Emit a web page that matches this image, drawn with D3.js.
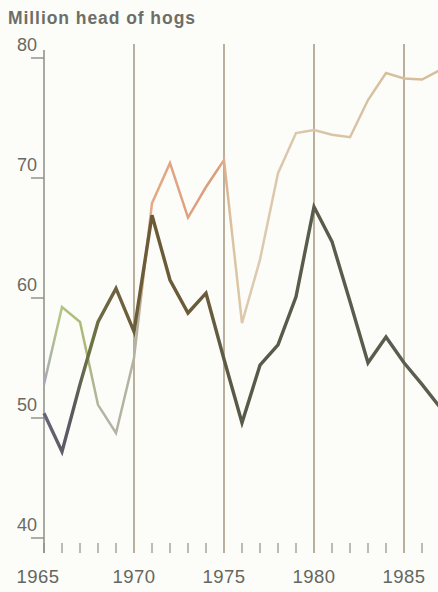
<!DOCTYPE html>
<html>
<head>
<meta charset="utf-8">
<script src="https://cdn.jsdelivr.net/npm/d3@7"></script>
<style>
  html, body { margin: 0; padding: 0; background: #fcfdf8; }
  svg { display: block; }
  text { font-family: "Liberation Sans", Arial, sans-serif; }
</style>
</head>
<body>
<svg id="chart" width="438" height="592"></svg>
<script>
// Hog inventory, million head, 1965-1987
const years = d3.range(1965, 1988);
const darkSeries = [50.4, 47.2, 52.8, 58.0, 60.8, 57.2, 66.9, 61.5, 58.75, 60.4, 54.9, 49.6,
                    54.4, 56.1, 60.1, 67.6, 64.7, 59.7, 54.6, 56.75, 54.6, 52.8, 50.9];
const lightSeries = [52.8, 59.25, 58.0, 51.1, 48.75, 55.0, 67.9, 71.25, 66.7, 69.25, 71.5, 57.9,
                     63.2, 70.4, 73.75, 74.0, 73.6, 73.4, 76.5, 78.75, 78.3, 78.2, 79.0];
const yTicks = [40, 50, 60, 70, 80];
const xLabels = [1965, 1970, 1975, 1980, 1985];
const gridYears = [1970, 1975, 1980, 1985];
const minorYears = d3.range(1965, 1987);

// colour bands along each line, keyed by year
const darkStops = [[1965, "#66667a"], [1966.6, "#58585e"], [1967.6, "#6c7444"], [1968.8, "#6e6240"],
                   [1971, "#6b5a36"], [1974.2, "#6a5c3c"], [1975.3, "#585a48"], [1987, "#5a5e50"]];
const lightStops = [[1965, "#a8a8ba"], [1965.8, "#b4c486"], [1967.4, "#aab878"], [1968.2, "#b4b4a6"],
                    [1970.2, "#b4b2a0"], [1970.9, "#e2aa86"], [1974.6, "#dc9c7c"], [1975.5, "#dcc4a2"],
                    [1976.5, "#dccab0"], [1987, "#d6bc98"]];

const svg = d3.select("#chart");
const x = d3.scaleLinear().domain([1965, 1985]).range([44, 404]);
const y = d3.scaleLinear().domain([40, 80]).range([538, 58]);

const defs = svg.append("defs");
function gradient(id, stops) {
  const g = defs.append("linearGradient")
    .attr("id", id).attr("gradientUnits", "userSpaceOnUse")
    .attr("x1", x(1965)).attr("x2", x(1987)).attr("y1", 0).attr("y2", 0);
  const span = 1987 - 1965;
  g.selectAll("stop").data(stops).join("stop")
    .attr("offset", d => (d[0] - 1965) / span)
    .attr("stop-color", d => d[1]);
  return `url(#${id})`;
}
const darkPaint = gradient("darkGrad", darkStops);
const lightPaint = gradient("lightGrad", lightStops);

// title
svg.append("text")
  .attr("x", 8).attr("y", 24)
  .attr("font-size", 17.5).attr("font-weight", 600).attr("fill", "#6e6e68")
  .attr("textLength", 187)
  .text("Million head of hogs");

// vertical grid lines at five-year marks
svg.append("g").selectAll("line").data(gridYears).join("line")
  .attr("x1", d => x(d)).attr("x2", d => x(d))
  .attr("y1", 44).attr("y2", 553)
  .attr("stroke", "#9e8e76").attr("stroke-width", 1.4);

// minor year ticks along the bottom
svg.append("g").selectAll("line").data(minorYears.filter(d => !gridYears.includes(d))).join("line")
  .attr("x1", d => x(d)).attr("x2", d => x(d))
  .attr("y1", 543).attr("y2", 553)
  .attr("stroke", "#9a9a92").attr("stroke-width", 1.3);

// y axis line and ticks
svg.append("line")
  .attr("x1", x(1965)).attr("x2", x(1965))
  .attr("y1", 50).attr("y2", 553)
  .attr("stroke", "#8c8c84").attr("stroke-width", 1.5);
svg.append("g").selectAll("line").data(yTicks).join("line")
  .attr("x1", 31).attr("x2", x(1965))
  .attr("y1", d => y(d)).attr("y2", d => y(d))
  .attr("stroke", "#8c8c84").attr("stroke-width", 1.4);
svg.append("g").selectAll("text").data(yTicks).join("text")
  .attr("x", 37).attr("y", d => y(d) - 7)
  .attr("text-anchor", "end")
  .attr("font-size", 18).attr("fill", "#6a6a62")
  .text(d => d);

// x labels
svg.append("g").selectAll("text").data(xLabels).join("text")
  .attr("x", d => x(d) - (d === 1965 ? 6 : 0)).attr("y", 583)
  .attr("text-anchor", "middle")
  .attr("font-size", 18.5).attr("fill", "#66665e").attr("letter-spacing", 0.5)
  .text(d => d);

// series lines
const line = d3.line().x(d => x(d[0])).y(d => y(d[1]));
svg.append("path")
  .datum(years.map((yr, i) => [yr, lightSeries[i]]))
  .attr("d", line)
  .attr("fill", "none").attr("stroke", lightPaint)
  .attr("stroke-width", 2.5).attr("stroke-linejoin", "miter");
svg.append("path")
  .datum(years.map((yr, i) => [yr, darkSeries[i]]))
  .attr("d", line)
  .attr("fill", "none").attr("stroke", darkPaint)
  .attr("stroke-width", 3.4).attr("stroke-linejoin", "miter");
</script>
</body>
</html>
